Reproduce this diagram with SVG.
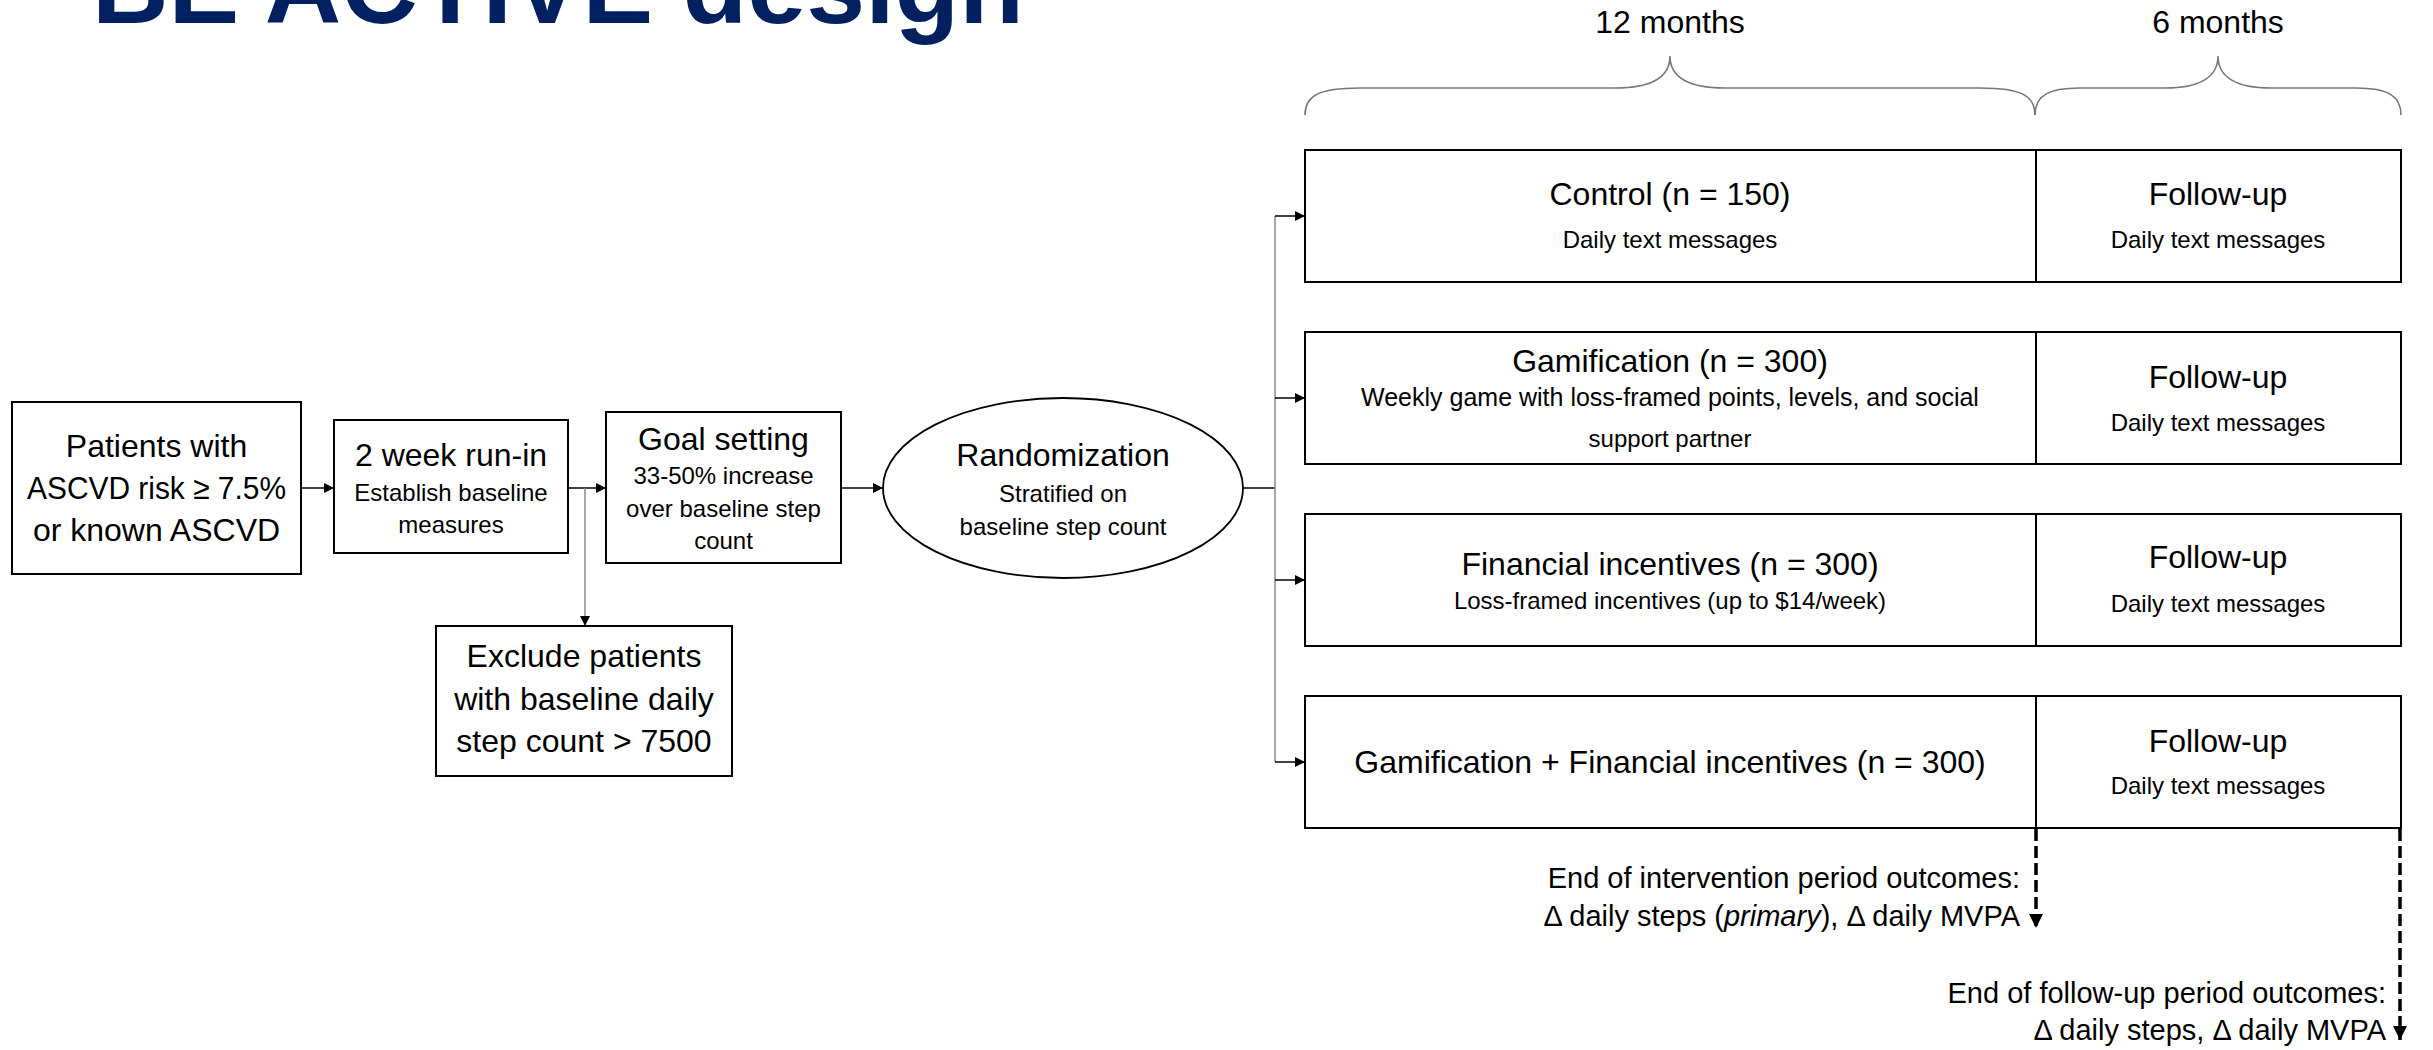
<svg xmlns="http://www.w3.org/2000/svg" width="2433" height="1050" viewBox="0 0 2433 1050">
<defs>
<style>
text{font-family:"Liberation Sans",Arial,sans-serif;fill:#000}
.t32{font-size:32px;text-anchor:middle}
.t24{font-size:24px;text-anchor:middle}
.t28{font-size:29px;text-anchor:end}
.box{fill:#fff;stroke:#000;stroke-width:2}
.ln{fill:none;stroke:#000;stroke-width:1.5}
.gl{fill:none;stroke:#888;stroke-width:1.5}
.dash{fill:none;stroke:#000;stroke-width:3.5;stroke-dasharray:12 5}
.brace{fill:none;stroke:#777;stroke-width:1.6}
</style>
<marker id="ah" markerUnits="userSpaceOnUse" markerWidth="11" markerHeight="11" refX="10" refY="5" orient="auto">
<path d="M0,0 L10,5 L0,10 z" fill="#000"/>
</marker>
<marker id="ahd" markerUnits="userSpaceOnUse" markerWidth="15" markerHeight="15" refX="14" refY="7" orient="auto">
<path d="M0,0 L14,7 L0,14 z" fill="#000"/>
</marker>
</defs>
<rect width="2433" height="1050" fill="#fff"/>
<text x="92" y="23" style="font-size:106px;font-weight:bold;fill:#002060" textLength="932" lengthAdjust="spacingAndGlyphs">BE ACTIVE design</text>

<g id="timeline">
<text class="t32" x="1670" y="33">12 months</text>
<text class="t32" x="2218" y="33">6 months</text>
<path class="brace" d="M1305,115 C1305,96 1318,88 1360,88 L1615,88 C1650,88 1670,78 1670,56 C1670,78 1690,88 1725,88 L1980,88 C2022,88 2035,96 2035,115"/>
<path class="brace" d="M2035,115 C2035,96 2048,88 2080,88 L2165,88 C2198,88 2218,78 2218,56 C2218,78 2238,88 2271,88 L2356,88 C2388,88 2401,96 2401,115"/>
</g>

<g id="connectors">
<line class="ln" x1="301" y1="488" x2="334" y2="488" marker-end="url(#ah)"/>
<line class="ln" x1="568" y1="488" x2="606" y2="488" marker-end="url(#ah)"/>
<line class="gl" x1="585" y1="488" x2="585" y2="626" marker-end="url(#ah)"/>
<line class="ln" x1="841" y1="488" x2="883" y2="488" marker-end="url(#ah)"/>
<line class="ln" x1="1243" y1="488" x2="1275" y2="488"/>
<line class="gl" x1="1275" y1="216" x2="1275" y2="762"/>
<line class="ln" x1="1275" y1="216" x2="1305" y2="216" marker-end="url(#ah)"/>
<line class="ln" x1="1275" y1="398" x2="1305" y2="398" marker-end="url(#ah)"/>
<line class="ln" x1="1275" y1="580" x2="1305" y2="580" marker-end="url(#ah)"/>
<line class="ln" x1="1275" y1="762" x2="1305" y2="762" marker-end="url(#ah)"/>
<line class="dash" x1="2036" y1="829" x2="2036" y2="928" marker-end="url(#ahd)"/>
<line class="dash" x1="2400" y1="829" x2="2400" y2="1040" marker-end="url(#ahd)"/>
</g>

<g id="patients">
<rect class="box" x="12" y="402" width="289" height="172"/>
<text class="t32" x="156.5" y="457">Patients with</text>
<text class="t32" x="156.5" y="499" textLength="259" lengthAdjust="spacingAndGlyphs">ASCVD risk ≥ 7.5%</text>
<text class="t32" x="156.5" y="541">or known ASCVD</text>
</g>

<g id="runin">
<rect class="box" x="334" y="420" width="234" height="133"/>
<text class="t32" x="451" y="466">2 week run-in</text>
<text class="t24" x="451" y="501">Establish baseline</text>
<text class="t24" x="451" y="533">measures</text>
</g>

<g id="goal">
<rect class="box" x="606" y="412" width="235" height="151"/>
<text class="t32" x="723.5" y="450">Goal setting</text>
<text class="t24" x="723.5" y="484">33-50% increase</text>
<text class="t24" x="723.5" y="517">over baseline step</text>
<text class="t24" x="723.5" y="549">count</text>
</g>

<g id="exclude">
<rect class="box" x="436" y="626" width="296" height="150"/>
<text class="t32" x="584" y="667">Exclude patients</text>
<text class="t32" x="584" y="710">with baseline daily</text>
<text class="t32" x="584" y="752">step count &gt; 7500</text>
</g>

<g id="randomization">
<ellipse cx="1063" cy="488" rx="180" ry="90" fill="#fff" stroke="#000" stroke-width="1.8"/>
<text class="t32" x="1063" y="466">Randomization</text>
<text class="t24" x="1063" y="502">Stratified on</text>
<text class="t24" x="1063" y="535">baseline step count</text>
</g>

<g id="control">
<rect class="box" x="1305" y="150" width="1096" height="132"/>
<line class="ln" x1="2036" y1="150" x2="2036" y2="282" style="stroke-width:2"/>
<text class="t32" x="1670" y="205">Control (n = 150)</text>
<text class="t24" x="1670" y="248">Daily text messages</text>
<text class="t32" x="2218" y="205">Follow-up</text>
<text class="t24" x="2218" y="248">Daily text messages</text>
</g>

<g id="gamification">
<rect class="box" x="1305" y="332" width="1096" height="132"/>
<line class="ln" x1="2036" y1="332" x2="2036" y2="464" style="stroke-width:2"/>
<text class="t32" x="1670" y="372">Gamification (n = 300)</text>
<text class="t24" x="1670" y="406" style="font-size:25px">Weekly game with loss-framed points, levels, and social</text>
<text class="t24" x="1670" y="447">support partner</text>
<text class="t32" x="2218" y="388">Follow-up</text>
<text class="t24" x="2218" y="431">Daily text messages</text>
</g>

<g id="financial">
<rect class="box" x="1305" y="514" width="1096" height="132"/>
<line class="ln" x1="2036" y1="514" x2="2036" y2="646" style="stroke-width:2"/>
<text class="t32" x="1670" y="575">Financial incentives (n = 300)</text>
<text class="t24" x="1670" y="609">Loss-framed incentives (up to $14/week)</text>
<text class="t32" x="2218" y="568">Follow-up</text>
<text class="t24" x="2218" y="612">Daily text messages</text>
</g>

<g id="combined">
<rect class="box" x="1305" y="696" width="1096" height="132"/>
<line class="ln" x1="2036" y1="696" x2="2036" y2="828" style="stroke-width:2"/>
<text class="t32" x="1670" y="773">Gamification + Financial incentives (n = 300)</text>
<text class="t32" x="2218" y="752">Follow-up</text>
<text class="t24" x="2218" y="794">Daily text messages</text>
</g>

<g id="outcomes-intervention">
<text class="t28" x="2020" y="888">End of intervention period outcomes:</text>
<text class="t28" x="2020" y="926">Δ daily steps (<tspan font-style="italic">primary</tspan>), Δ daily MVPA</text>
</g>

<g id="outcomes-followup">
<text class="t28" x="2386" y="1003">End of follow-up period outcomes:</text>
<text class="t28" x="2386" y="1040">Δ daily steps, Δ daily MVPA</text>
</g>
</svg>
